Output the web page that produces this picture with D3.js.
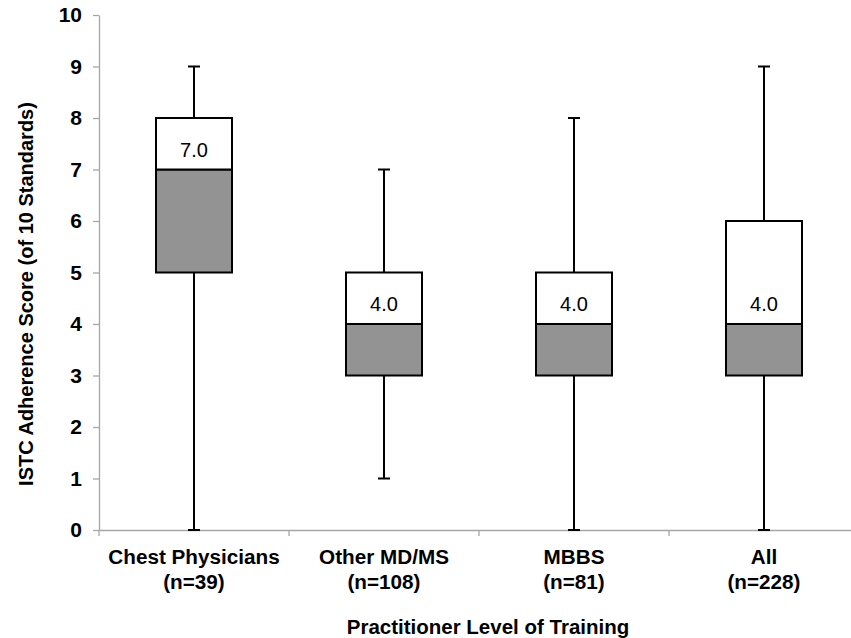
<!DOCTYPE html>
<html>
<head>
<meta charset="utf-8">
<script src="https://cdn.jsdelivr.net/npm/d3@7"></script>
<style>
  html, body { margin: 0; padding: 0; background: #fff; }
  svg { display: block; }
</style>
</head>
<body>
<script>
const categories = ["Chest Physicians", "Other MD/MS", "MBBS", "All"];
const sampleSizes = ["(n=39)", "(n=108)", "(n=81)", "(n=228)"];
const minValues = [0, 1, 0, 0];
const q1Values = [5, 3, 3, 3];
const medianValues = [7, 4, 4, 4];
const q3Values = [8, 5, 5, 6];
const maxValues = [9, 7, 8, 9];
const yTicks = [0, 1, 2, 3, 4, 5, 6, 7, 8, 9, 10];
const yTitle = "ISTC Adherence Score (of 10 Standards)";
const xTitle = "Practitioner Level of Training";

const W = 851, H = 638;
const svg = d3.select("body").append("svg").attr("width", W).attr("height", H);

const x = d3.scaleBand().domain(categories).range([99, 859]).padding(0);
const y = d3.scaleLinear().domain([0, 10]).range([530, 15]);

const axisColor = "#a6a6a6";
const font = "'Liberation Sans', Arial, sans-serif";

// Y axis
const yAxis = svg.append("g").attr("transform", "translate(99,0)")
  .call(d3.axisLeft(y).tickValues(yTicks).tickSize(6).tickPadding(11).tickSizeOuter(0));
yAxis.select(".domain").attr("stroke", axisColor).attr("stroke-width", 1.3);
yAxis.selectAll(".tick line").attr("stroke", axisColor).attr("stroke-width", 1.3);
yAxis.selectAll(".tick text").attr("font-family", font).attr("font-weight", "bold")
  .attr("font-size", 21).attr("fill", "#000");

// X axis
const xAxis = svg.append("g").attr("transform", "translate(0,530)")
  .call(d3.axisBottom(x).tickSize(0).tickFormat(""));
xAxis.select(".domain").attr("stroke", axisColor).attr("stroke-width", 1.3);
const boundaries = categories.map(c => x(c)).concat([x.range()[1]]);
xAxis.selectAll(".bound").data(boundaries).enter().append("line")
  .attr("x1", d => d).attr("x2", d => d).attr("y1", 0).attr("y2", 6)
  .attr("stroke", axisColor).attr("stroke-width", 1.3);

// x labels
const xl = svg.append("g");
categories.forEach((c, i) => {
  const cx = x(c) + x.bandwidth() / 2;
  xl.append("text").attr("x", cx).attr("y", 564).attr("text-anchor", "middle")
    .attr("font-family", font).attr("font-weight", "bold").attr("font-size", 20.7).text(c);
  xl.append("text").attr("x", cx).attr("y", 589).attr("text-anchor", "middle")
    .attr("font-family", font).attr("font-weight", "bold").attr("font-size", 20.7).text(sampleSizes[i]);
});

// titles
svg.append("text").attr("x", 488).attr("y", 634).attr("text-anchor", "middle")
  .attr("font-family", font).attr("font-weight", "bold").attr("font-size", 20.5).text(xTitle);
svg.append("text").attr("transform", "translate(33,294) rotate(-90)").attr("text-anchor", "middle")
  .attr("font-family", font).attr("font-weight", "bold").attr("font-size", 20).text(yTitle);

// boxes
const boxW = x.bandwidth() * 0.4;
const capW = 12;
const data = categories.map((c, i) => ({
  c, min: minValues[i], q1: q1Values[i], med: medianValues[i], q3: q3Values[i], max: maxValues[i]
}));

const g = svg.selectAll(".box").data(data).enter().append("g")
  .attr("transform", d => `translate(${x(d.c) + x.bandwidth() / 2},0)`);

g.append("line").attr("x1", 0).attr("x2", 0).attr("y1", d => y(d.q3)).attr("y2", d => y(d.max))
  .attr("stroke", "#000").attr("stroke-width", 2);
g.append("line").attr("x1", 0).attr("x2", 0).attr("y1", d => y(d.q1)).attr("y2", d => y(d.min))
  .attr("stroke", "#000").attr("stroke-width", 2);
g.append("line").attr("x1", -capW / 2).attr("x2", capW / 2).attr("y1", d => y(d.max)).attr("y2", d => y(d.max))
  .attr("stroke", "#000").attr("stroke-width", 2);
g.append("line").attr("x1", -capW / 2).attr("x2", capW / 2).attr("y1", d => y(d.min)).attr("y2", d => y(d.min))
  .attr("stroke", "#000").attr("stroke-width", 2);

g.append("rect").attr("x", -boxW / 2).attr("width", boxW)
  .attr("y", d => y(d.med)).attr("height", d => y(d.q1) - y(d.med))
  .attr("fill", "#939393").attr("stroke", "#000").attr("stroke-width", 2);
g.append("rect").attr("x", -boxW / 2).attr("width", boxW)
  .attr("y", d => y(d.q3)).attr("height", d => y(d.med) - y(d.q3))
  .attr("fill", "#fff").attr("stroke", "#000").attr("stroke-width", 2);

g.append("text").attr("x", 0).attr("y", d => y(d.med) - 13).attr("text-anchor", "middle")
  .attr("font-family", font).attr("font-size", 20).attr("fill", "#000")
  .text(d => d.med.toFixed(1));
</script>
</body>
</html>
